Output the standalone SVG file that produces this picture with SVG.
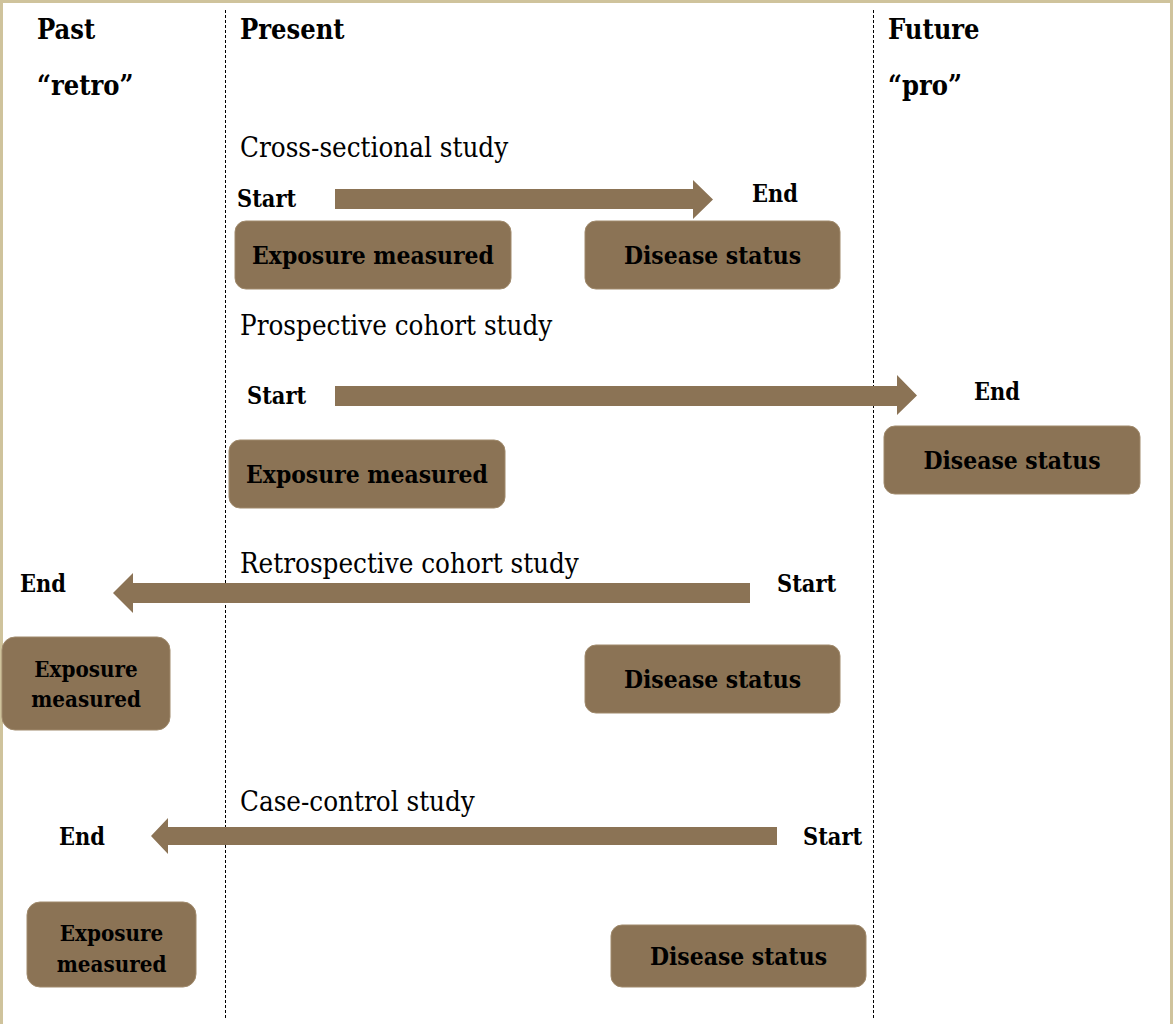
<svg xmlns="http://www.w3.org/2000/svg" width="1173" height="1024" viewBox="0 0 1173 1024">
  <style>
    .hdr { font-family: "DejaVu Serif Condensed", "DejaVu Serif", serif; font-weight: bold; font-size: 27px; fill: #000; }
    .title { font-family: "DejaVu Serif Condensed", "DejaVu Serif", serif; font-size: 27.5px; fill: #000; }
    .lbl { font-family: "DejaVu Serif Condensed", "DejaVu Serif", serif; font-weight: bold; font-size: 23.3px; fill: #000; }
    .box { fill: #8b7355; stroke: #a08a6c; stroke-width: 1; }
    .boxtxt { font-family: "DejaVu Serif Condensed", "DejaVu Serif", serif; font-weight: bold; font-size: 24.4px; fill: #000; text-anchor: middle; }
    .boxtxt2 { font-family: "DejaVu Serif Condensed", "DejaVu Serif", serif; font-weight: bold; font-size: 22.2px; fill: #000; text-anchor: middle; }
    .arrow { fill: #8b7355; }
    .divider { stroke: #000; stroke-width: 1; stroke-dasharray: 3 2; fill: none; }
  </style>
  <rect width="1173" height="1024" fill="#fff"/>
  <!-- frame -->
  <path d="M1.5 1024 V1.5 H1171.5 V1024" fill="none" stroke="#cfc39c" stroke-width="3"/>

  <!-- time dividers -->
  <g id="dividers">
    <line class="divider" x1="225.5" y1="10" x2="225.5" y2="1018"/>
    <line class="divider" x1="873.5" y1="10" x2="873.5" y2="1018"/>
  </g>

  <!-- column headings -->
  <g id="headings">
    <text class="hdr" x="37" y="39">Past</text>
    <text class="hdr" x="37" y="95">“retro”</text>
    <text class="hdr" x="240" y="39">Present</text>
    <text class="hdr" x="888" y="39">Future</text>
    <text class="hdr" x="888" y="95">“pro”</text>
  </g>

  <!-- study titles -->
  <g id="titles">
    <text class="title" x="240" y="157">Cross-sectional study</text>
    <text class="title" x="240" y="335">Prospective cohort study</text>
    <text class="title" x="240" y="573">Retrospective cohort study</text>
    <text class="title" x="240" y="811">Case-control study</text>
  </g>

  <!-- time arrows -->
  <g id="connectors">
    <polygon class="arrow" points="335,189 693,189 693,180 713,199.5 693,219 693,209 335,209"/>
    <polygon class="arrow" points="335,386 897,386 897,375 917,395.5 897,415 897,406 335,406"/>
    <polygon class="arrow" points="750,583 133,583 133,573 113,593 133,613 133,603 750,603"/>
    <polygon class="arrow" points="777,827 168,827 168,818 151,836 168,854 168,845 777,845"/>
  </g>

  <!-- start / end labels -->
  <g id="labels">
    <text class="lbl" x="237" y="207">Start</text>
    <text class="lbl" x="752" y="202">End</text>
    <text class="lbl" x="247" y="404">Start</text>
    <text class="lbl" x="974" y="400">End</text>
    <text class="lbl" x="20" y="592">End</text>
    <text class="lbl" x="777" y="592">Start</text>
    <text class="lbl" x="59" y="845">End</text>
    <text class="lbl" x="803" y="845">Start</text>
  </g>

  <!-- cross-sectional -->
  <g id="cs-exposure">
    <rect class="box" x="235" y="221" width="276" height="68" rx="11"/>
    <text class="boxtxt" x="373" y="264">Exposure measured</text>
  </g>
  <g id="cs-disease">
    <rect class="box" x="585" y="221" width="255" height="68" rx="11"/>
    <text class="boxtxt" x="712.5" y="264">Disease status</text>
  </g>

  <!-- prospective cohort -->
  <g id="pc-exposure">
    <rect class="box" x="229" y="440" width="276" height="68" rx="11"/>
    <text class="boxtxt" x="367" y="483">Exposure measured</text>
  </g>
  <g id="pc-disease">
    <rect class="box" x="884" y="426" width="256" height="68" rx="11"/>
    <text class="boxtxt" x="1012" y="469">Disease status</text>
  </g>

  <!-- retrospective cohort -->
  <g id="rc-exposure">
    <rect class="box" x="2" y="637" width="168" height="93" rx="13"/>
    <text class="boxtxt2" x="86" y="677">Exposure</text>
    <text class="boxtxt2" x="86" y="707">measured</text>
  </g>
  <g id="rc-disease">
    <rect class="box" x="585" y="645" width="255" height="68" rx="11"/>
    <text class="boxtxt" x="712.5" y="688">Disease status</text>
  </g>

  <!-- case-control -->
  <g id="cc-exposure">
    <rect class="box" x="27" y="902" width="169" height="85" rx="13"/>
    <text class="boxtxt2" x="111.5" y="941">Exposure</text>
    <text class="boxtxt2" x="111.5" y="972">measured</text>
  </g>
  <g id="cc-disease">
    <rect class="box" x="611" y="925" width="255" height="62" rx="11"/>
    <text class="boxtxt" x="738.5" y="965">Disease status</text>
  </g>
</svg>
